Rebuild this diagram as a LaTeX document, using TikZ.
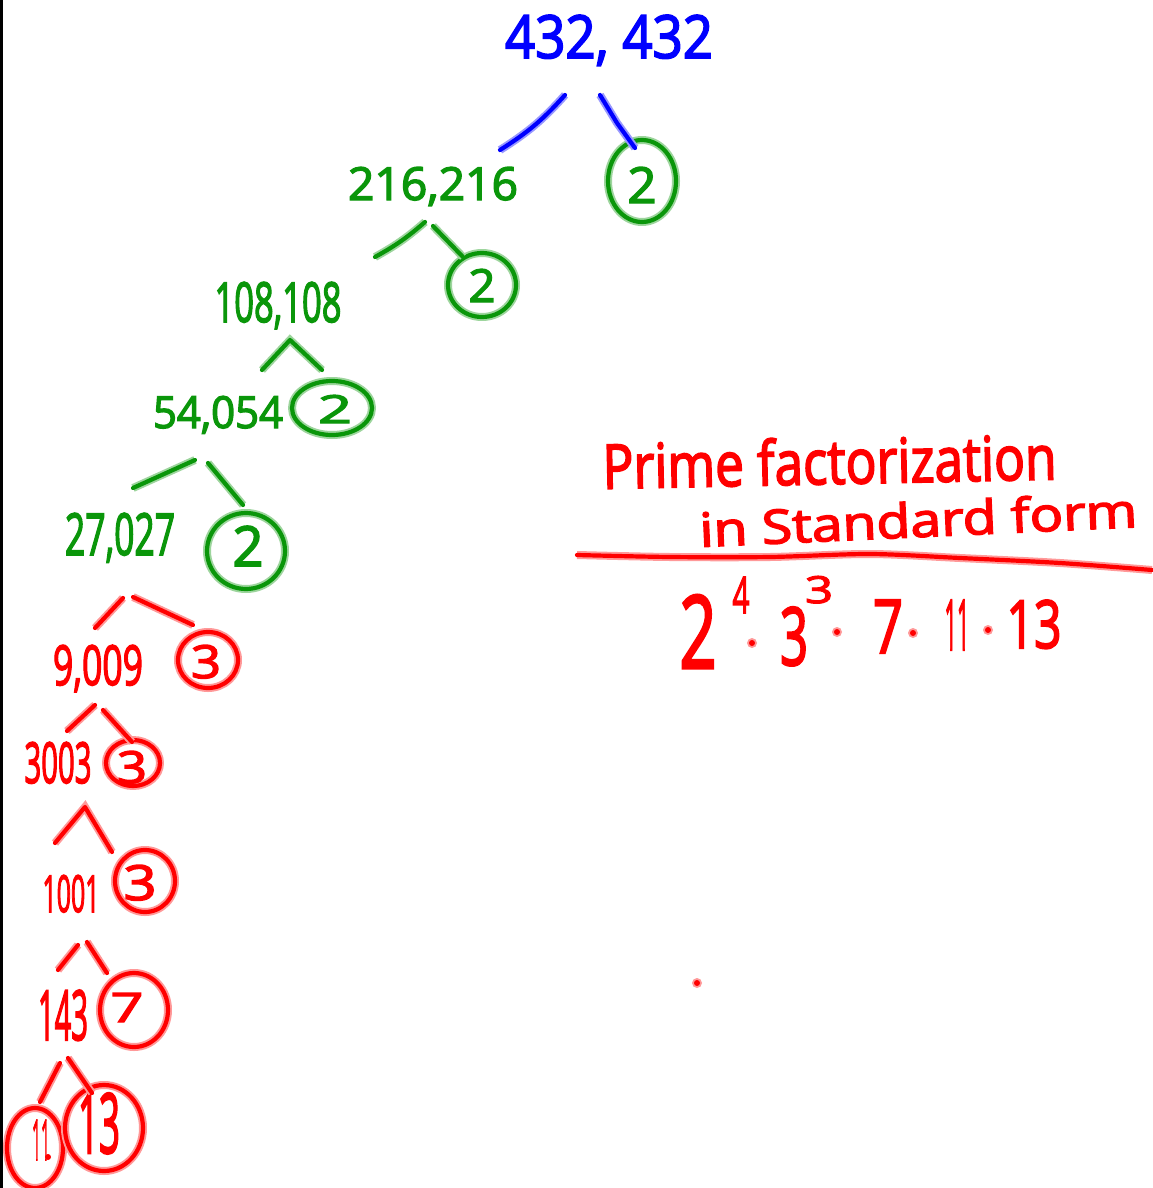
\documentclass[tikz,border=0pt]{standalone}
\usepackage{fontspec}
\setmainfont{Open Sans}
\usepackage{graphicx}
\usetikzlibrary{shapes.geometric}
\definecolor{pblue}{RGB}{0,0,255}
\definecolor{pgreen}{RGB}{10,150,10}
\definecolor{pred}{RGB}{255,0,0}
\newcommand\hw[4]{{\color{#1}\fontsize{40}{40}\selectfont\addfontfeature{FakeBold=3}\resizebox{#2}{#3}{#4}}}
\begin{document}
\begin{tikzpicture}[x=1pt,y=-1pt,
  pen/.style={draw=#1, line width=4.2pt, line cap=round, line join=round,
              preaction={draw=#1!40, line width=8pt}},
  ring/.style={pen=#1, shape=ellipse, inner sep=0pt},
  lbl/.style={anchor=base, inner sep=0pt}]
\useasboundingbox (0,0) rectangle (1152,1188);
\fill[white] (0,0) rectangle (1152,1188);
\fill[black] (0,0) rectangle (3,1188);

% ---- tree labels ----
\node[lbl] (n432) at (609,58)  {\hw{pblue}{208pt}{43pt}{432, 432}};
\node[lbl] (n216) at (433,200) {\hw{pgreen}{170pt}{33pt}{216,216}};
\node[lbl] (n108) at (278,322) {\hw{pgreen}{127pt}{40pt}{108,108}};
\node[lbl] (n54)  at (218,428) {\hw{pgreen}{130pt}{32pt}{54,054}};
\node[lbl] (n27)  at (120,555) {\hw{pgreen}{110pt}{42pt}{27,027}};
\node[lbl] (n9)   at (98,685)  {\hw{pred}{90pt}{40pt}{9,009}};
\node[lbl] (n3003) at (58,783) {\hw{pred}{67pt}{41pt}{3003}};
\node[lbl] (n1001) at (71,912) {\hw{pred}{57pt}{37pt}{1001}};
\node[lbl] (n143) at (63,1040) {\hw{pred}{50pt}{50pt}{143}};

% ---- circled primes ----
\node[ring=pgreen, minimum width=68pt, minimum height=82pt] (c1) at (642,181) {};
\node[lbl] (d1) at (642,203) {\hw{pgreen}{29pt}{36pt}{2}};
\node[ring=pgreen, minimum width=68pt, minimum height=64pt] (c2) at (482,285) {};
\node[lbl] (d2) at (482,302) {\hw{pgreen}{27pt}{33pt}{2}};
\node[ring=pgreen, minimum width=80pt, minimum height=54pt] (c3) at (332,408) {};
\node[lbl] (d3) at (335,423) {\hw{pgreen}{34pt}{28pt}{2}};
\node[ring=pgreen, minimum width=78pt, minimum height=76pt] (c4) at (246,551) {};
\node[lbl] (d4) at (248,566) {\hw{pgreen}{31pt}{40pt}{2}};
\node[ring=pred, minimum width=60pt, minimum height=56pt] (c5) at (208,660) {};
\node[lbl] (d5) at (206,678) {\hw{pred}{30pt}{33pt}{3}};
\node[ring=pred, minimum width=54pt, minimum height=46pt] (c6) at (133,763) {};
\node[lbl] (d6) at (132,783) {\hw{pred}{30pt}{32pt}{3}};
\node[ring=pred, minimum width=60pt, minimum height=62pt] (c7) at (145,881) {};
\node[lbl] (d7) at (140,900) {\hw{pred}{33pt}{35pt}{3}};
\node[ring=pred, minimum width=68pt, minimum height=74pt] (c8) at (134,1010) {};
\node[lbl] (d8) at (127,1022) {\hw{pred}{33pt}{29pt}{7}};
\node[ring=pred, minimum width=56pt, minimum height=80pt] (c9) at (35,1148) {};
\node[lbl] (d9) at (41,1160) {\hw{pred}{18pt}{40pt}{11}};
\node[ring=pred, minimum width=78pt, minimum height=86pt] (c10) at (104,1128) {};
\node[lbl] (d10) at (99,1153) {\hw{pred}{42pt}{60pt}{13}};
\fill[pred] (48,1157) circle (3);

% ---- branch lines ----
\coordinate (b1a) at (565,95);  \coordinate (b1b) at (500,150);
\coordinate (b2a) at (600,95);  \coordinate (b2m) at (617,123); \coordinate (b2b) at (635,148);
\coordinate (g1a) at (425,222); \coordinate (g1b) at (375,257);
\coordinate (g2a) at (433,226); \coordinate (g2b) at (463,257);
\coordinate (g3a) at (262,370); \coordinate (g3m) at (290,340); \coordinate (g3b) at (322,370);
\coordinate (g4a) at (195,460); \coordinate (g4b) at (133,488);
\coordinate (g5a) at (208,463); \coordinate (g5b) at (243,505);
\coordinate (r1a) at (123,598); \coordinate (r1b) at (95,628);
\coordinate (r2a) at (133,597); \coordinate (r2b) at (193,625);
\coordinate (r3a) at (95,705);  \coordinate (r3b) at (67,731);
\coordinate (r4a) at (103,710); \coordinate (r4b) at (132,742);
\coordinate (r5a) at (55,843);  \coordinate (r5m) at (85,807);  \coordinate (r5b) at (112,852);
\coordinate (r6a) at (78,945);  \coordinate (r6b) at (58,970);
\coordinate (r7a) at (87,942);  \coordinate (r7b) at (107,973);
\coordinate (r8a) at (60,1063); \coordinate (r8b) at (40,1102);
\coordinate (r9a) at (68,1058); \coordinate (r9b) at (92,1093);

\draw[pen=pblue] (b1a) to[bend left=8] (b1b);
\draw[pen=pblue] (b2a) -- (b2m) -- (b2b);
\draw[pen=pgreen] (g1a) to[bend left=6] (g1b);
\draw[pen=pgreen] (g2a) -- (g2b);
\draw[pen=pgreen] (g3a) -- (g3m) -- (g3b);
\draw[pen=pgreen] (g4a) -- (g4b);
\draw[pen=pgreen] (g5a) -- (g5b);
\draw[pen=pred] (r1a) -- (r1b);
\draw[pen=pred] (r2a) -- (r2b);
\draw[pen=pred] (r3a) -- (r3b);
\draw[pen=pred] (r4a) -- (r4b);
\draw[pen=pred] (r5a) -- (r5m) -- (r5b);
\draw[pen=pred] (r6a) -- (r6b);
\draw[pen=pred] (r7a) -- (r7b);
\draw[pen=pred] (r8a) -- (r8b);
\draw[pen=pred] (r9a) -- (r9b);

% ---- title and result ----
\node[lbl, rotate=1.2] (t1) at (830,484) {\hw{pred}{454pt}{47pt}{Prime factorization}};
\node[lbl, rotate=2.6] (t2) at (919,537) {\hw{pred}{438pt}{36pt}{in Standard form}};
\draw[pen=pred] plot[smooth] coordinates {(577,555) (670,557) (770,557) (870,554) (960,558) (1060,563) (1152,570)};

\node[lbl] (f2)  at (698,668)  {\hw{pred}{37pt}{73pt}{2}};
\node[lbl] (f4)  at (741,613)  {\hw{pred}{17pt}{36pt}{4}};
\node[lbl] (f3)  at (794,665)  {\hw{pred}{28pt}{58pt}{3}};
\node[lbl] (f3s) at (819,603)  {\hw{pred}{28pt}{27pt}{3}};
\node[lbl] (f7)  at (888,653)  {\hw{pred}{30pt}{53pt}{7}};
\node[lbl] (f11) at (957,650)  {\hw{pred}{25pt}{50pt}{11}};
\node[lbl] (f13) at (1034,648) {\hw{pred}{55pt}{48pt}{13}};
\foreach \p in {(752,643),(837,632),(913,633),(988,630),(697,983)}{
  \fill[pred!40] \p circle (5);
  \fill[pred] \p circle (3);
}
\end{tikzpicture}
\end{document}
